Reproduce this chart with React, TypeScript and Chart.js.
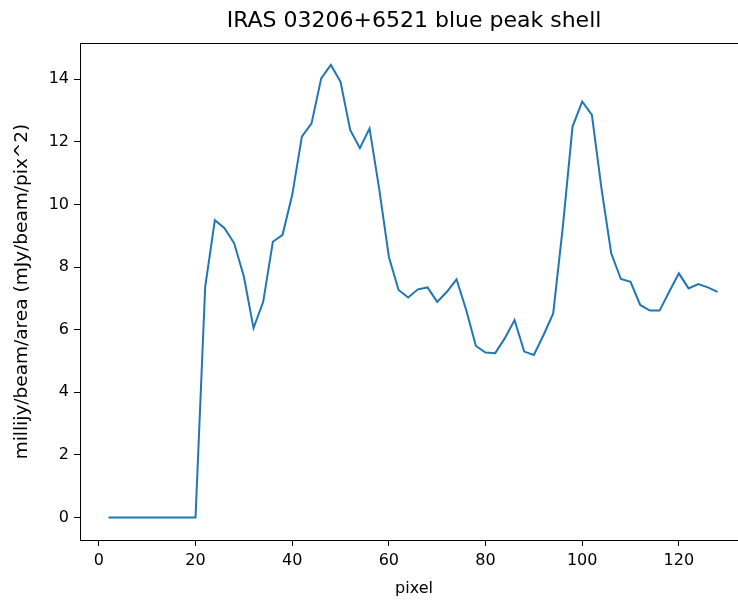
import React, { useEffect, useRef } from "react";
import { Chart, registerables } from "chart.js";

Chart.register(...registerables);

const pixels = [
  2, 4, 6, 8, 10, 12, 14, 16, 18, 20,
  22, 24, 26, 28, 30, 32, 34, 36, 38, 40,
  42, 44, 46, 48, 50, 52, 54, 56, 58, 60,
  62, 64, 66, 68, 70, 72, 74, 76, 78, 80,
  82, 84, 86, 88, 90, 92, 94, 96, 98, 100,
  102, 104, 106, 108, 110, 112, 114, 116, 118, 120,
  122, 124, 126, 128,
];

const brightness = [
  0, 0, 0, 0, 0, 0, 0, 0, 0, 0,
  7.37, 9.5, 9.24, 8.76, 7.7, 6.05, 6.89, 8.81, 9.03, 10.3,
  12.17, 12.59, 14.03, 14.46, 13.92, 12.38, 11.8, 12.43, 10.5, 8.33,
  7.27, 7.03, 7.29, 7.35, 6.89, 7.21, 7.61, 6.63, 5.48, 5.27,
  5.25, 5.73, 6.31, 5.3, 5.19, 5.83, 6.52, 9.3, 12.49, 13.29,
  12.86, 10.5, 8.44, 7.62, 7.53, 6.79, 6.61, 6.61, 7.21, 7.8,
  7.32, 7.46, 7.35, 7.21,
];

const xTickValues = [0, 20, 40, 60, 80, 100, 120];
const yTickValues = [0, 2, 4, 6, 8, 10, 12, 14];

const titleText = "IRAS 03206+6521 blue peak shell";
const xLabel = "pixel";
const yLabel = "millijy/beam/area (mJy/beam/pix^2)";

const FONT = "'DejaVu Sans', sans-serif";

export default function App() {
  const ref = useRef<HTMLCanvasElement | null>(null);

  useEffect(() => {
    if (!ref.current) return;
    const framePlugin = {
      id: "frameAndTitle",
      afterDraw(chart: any) {
        const { ctx, chartArea } = chart;
        ctx.save();
        ctx.strokeStyle = "#000";
        ctx.lineWidth = 1;
        const l = Math.round(chartArea.left) + 0.5;
        const t = Math.round(chartArea.top) + 0.5;
        const r = Math.round(chartArea.right) + 0.5;
        const b = Math.round(chartArea.bottom) + 0.5;
        ctx.strokeRect(l, t, r - l, b - t);
        ctx.fillStyle = "#000";
        ctx.font = `22px ${FONT}`;
        ctx.textAlign = "center";
        ctx.textBaseline = "middle";
        ctx.fillText(titleText, (chartArea.left + chartArea.right) / 2, 21);
        ctx.restore();
      },
    };

    const chart = new Chart(ref.current, {
      type: "line",
      data: {
        datasets: [
          {
            data: pixels.map((p, i) => ({ x: p, y: brightness[i] })),
            borderColor: "#1f77b4",
            borderWidth: 2,
            pointRadius: 0,
            tension: 0,
            fill: false,
          },
        ],
      },
      options: {
        animation: false,
        responsive: false,
        devicePixelRatio: 1,
        layout: { padding: { top: 43, right: 12, left: 0, bottom: 0 } },
        plugins: {
          legend: { display: false },
          title: { display: false },
          tooltip: { enabled: false },
        },
        scales: {
          x: {
            type: "linear",
            min: -3.9,
            max: 134.3,
            afterFit(scale: any) {
              scale.height = 61;
            },
            afterBuildTicks(scale: any) {
              scale.ticks = xTickValues.map((v) => ({ value: v }));
            },
            grid: {
              drawOnChartArea: false,
              drawTicks: true,
              tickLength: 6,
              color: "#000",
            },
            border: { display: false },
            ticks: {
              color: "#000",
              padding: 5,
              maxRotation: 0,
              autoSkip: false,
              font: { family: FONT, size: 16 },
            },
            title: {
              display: true,
              text: xLabel,
              color: "#000",
              font: { family: FONT, size: 16 },
              padding: { top: 0, bottom: 3 },
            },
          },
          y: {
            type: "linear",
            min: -0.72,
            max: 15.16,
            afterFit(scale: any) {
              scale.width = 80;
            },
            afterBuildTicks(scale: any) {
              scale.ticks = yTickValues.map((v) => ({ value: v }));
            },
            grid: {
              drawOnChartArea: false,
              drawTicks: true,
              tickLength: 6,
              color: "#000",
            },
            border: { display: false },
            ticks: {
              color: "#000",
              padding: 5,
              autoSkip: false,
              font: { family: FONT, size: 16 },
            },
            title: {
              display: true,
              text: yLabel,
              color: "#000",
              font: { family: FONT, size: 18.5 },
              padding: { top: 11, bottom: 0 },
            },
          },
        },
      },
      plugins: [framePlugin],
    });
    return () => chart.destroy();
  }, []);

  return (
    <div
      style={{
        position: "absolute",
        left: 0,
        top: 0,
        width: 738,
        height: 601,
        overflow: "hidden",
        background: "#fff",
      }}
    >
      <canvas ref={ref} width={760} height={601} style={{ width: 760, height: 601 }} />
    </div>
  );
}
